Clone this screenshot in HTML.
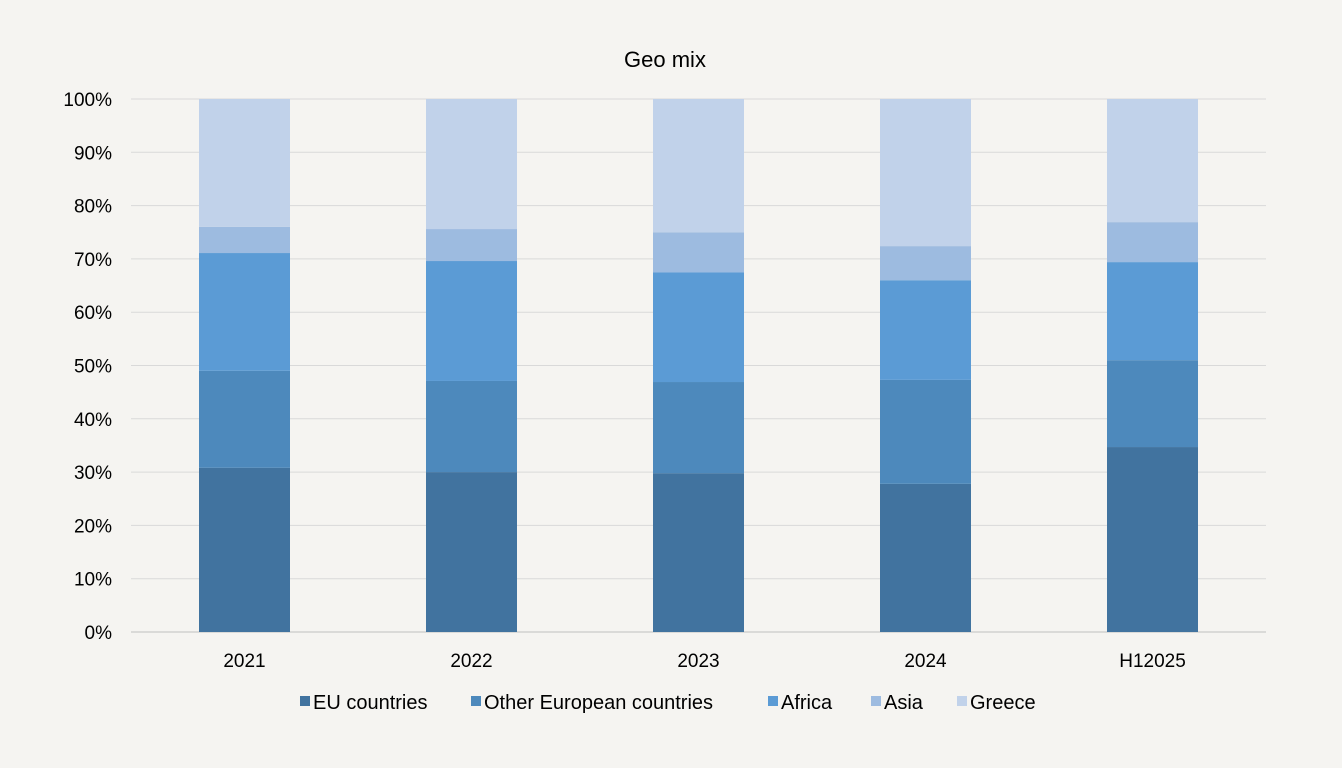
<!DOCTYPE html>
<html><head><meta charset="utf-8"><style>
body{margin:0;background:#f5f4f1;}
svg{display:block;font-family:"Liberation Sans",Arial,sans-serif;}
</style></head><body>
<svg id="chart" width="1342" height="768">
<rect width="1342" height="768" fill="#f5f4f1"/>
<text x="665" y="67" text-anchor="middle" font-size="22" fill="#000">Geo mix</text>
<g id="grid"></g><g id="bars"></g><g id="axes"></g><g id="legend"></g>
</svg>
<script>
const categories=["2021","2022","2023","2024","H12025"];
const seriesNames=["EU countries","Other European countries","Africa","Asia","Greece"];
const euValues=[30.8,30.0,29.8,27.8,34.7];
const otherEuropeValues=[18.2,17.1,17.1,19.5,16.3];
const africaValues=[22.1,22.5,20.6,18.7,18.4];
const asiaValues=[4.9,6.0,7.5,6.4,7.5];
const greeceValues=[24.0,24.4,25.0,27.6,23.1];
const yTicks=[0,10,20,30,40,50,60,70,80,90,100];
const colors=["#41739f","#4d89bc","#5b9bd5","#9dbbe0","#c1d2ea"];
const series=[euValues,otherEuropeValues,africaValues,asiaValues,greeceValues];
const NS="http://www.w3.org/2000/svg";
const x0=131,x1=1266,y0=632,y1=99,barW=91;
const y=v=>y0-(y0-y1)*v/100;
const band=(x1-x0)/categories.length;
const xc=i=>x0+band*(i+0.5);
function mk(t,a,p){const e=document.createElementNS(NS,t);for(const k in a)e.setAttribute(k,a[k]);p.appendChild(e);return e;}
const grid=document.getElementById('grid'),bars=document.getElementById('bars'),axes=document.getElementById('axes'),legend=document.getElementById('legend');
yTicks.forEach(t=>{
 const l=mk('line',{x1:x0,x2:x1,y1:y(t),y2:y(t),stroke:t===0?'#bfbfbf':'#d9d9d9','stroke-width':1},grid);
 
 
 const tx=mk('text',{x:112,y:y(t)+7,'text-anchor':'end','font-size':19,fill:'#000'},axes);
 tx.textContent=t+'%';
 
 
});
categories.forEach((c,i)=>{
 let cum=0;
 series.forEach((s,j)=>{
  const v=s[i];
  const r=mk('rect',{x:xc(i)-barW/2,y:y(cum+v),width:barW,height:y(cum)-y(cum+v),fill:colors[j]},bars);
  
  
  cum+=v;
 });
 const tx=mk('text',{x:xc(i),y:667,'text-anchor':'middle','font-size':19,fill:'#000'},axes);
 tx.textContent=c;
 
 
});
const legX=[300,471,768,871,957];
seriesNames.forEach((n,j)=>{
 const g=mk('g',{},legend);
 
 
 mk('rect',{x:legX[j],y:696,width:10,height:10,fill:colors[j]},g);
 const t=mk('text',{x:legX[j]+13,y:709,'font-size':20,fill:'#000'},g);
 t.textContent=n;
});
</script>
</body></html>
